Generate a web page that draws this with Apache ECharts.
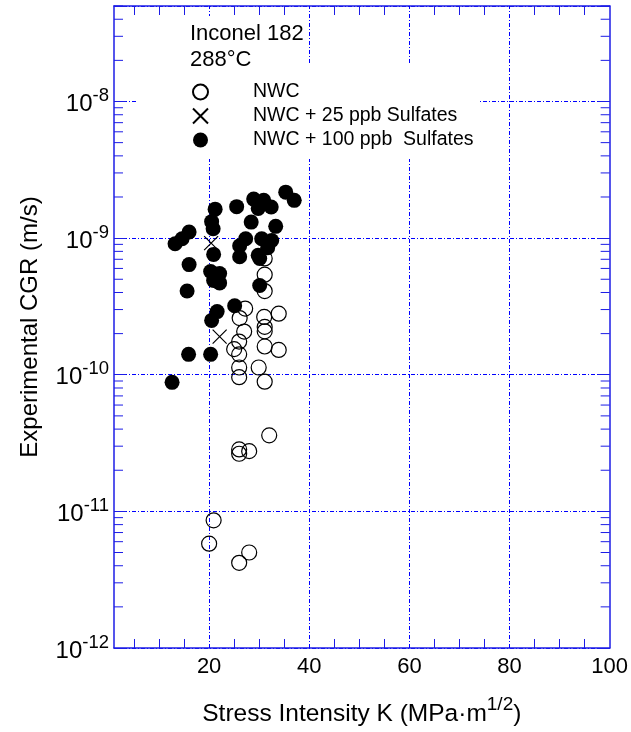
<!DOCTYPE html>
<html>
<head>
<meta charset="utf-8">
<script src="https://cdn.jsdelivr.net/npm/echarts@6/dist/echarts.min.js"></script>
<style>html,body{margin:0;padding:0;background:#fff}#c{width:631px;height:732px}</style>
</head>
<body>
<div id="c"></div>
<script>
// ---- data (K in MPa·m^1/2, CGR in m/s) ----
const nwcK   = [31.1,31.1,31.1,27.2,26.1,33.9,31.0,31.1,31.1,27.0,26.0,25.0,26.0,31.1,33.9,26.0,29.9,26.0,31.1,32.0,26.0,26.0,28.0,20.9,20.0,28.0,26.0];
const nwcCGR = [7.1e-10,5.4e-10,4.1e-10,3.05e-10,2.6e-10,2.8e-10,2.65e-10,2.24e-10,2.08e-10,2.07e-10,1.75e-10,1.54e-10,1.41e-10,1.61e-10,1.52e-10,1.13e-10,1.13e-10,9.6e-11,8.9e-11,3.6e-11,2.84e-11,2.64e-11,2.76e-11,8.6e-12,5.8e-12,5.0e-12,4.2e-12];
const s25K   = [20.4,22.1];
const s25CGR = [9.2e-10,1.9e-10];
const s100K  = [13.2,14.6,16.0,16.0,15.6,21.2,20.5,20.8,20.9,25.5,20.3,22.1,20.9,22.1,28.9,30.9,32.4,29.8,28.4,35.3,37.0,33.3,27.3,26.1,26.1,30.5,32.5,31.7,29.8,30.1,30.1,25.1,21.6,20.5,15.9,20.3,12.6];
const s100CGR= [9.1e-10,9.9e-10,1.11e-9,6.4e-10,4.1e-10,1.63e-9,1.32e-9,1.17e-9,7.6e-10,1.70e-9,5.7e-10,5.5e-10,4.9e-10,4.7e-10,1.93e-9,1.89e-9,1.69e-9,1.65e-9,1.31e-9,2.17e-9,1.89e-9,1.22e-9,9.9e-10,8.8e-10,7.3e-10,9.9e-10,9.6e-10,8.5e-10,7.5e-10,7.1e-10,4.5e-10,3.2e-10,2.9e-10,2.5e-10,1.41e-10,1.41e-10,8.8e-11];
const seriesNames = ['NWC','NWC + 25 ppb Sulfates','NWC + 100 ppb  Sulfates'];
const xLabelTicks = [20,40,60,80,100];
const xMinorTicks = [5,10,15,25,30,35,45,50,55,65,70,75,85,90,95];
const xGridValues = [20,40,60,80];
const yMinorTicks = [];
[-12,-11,-10,-9,-8].forEach(function(e){ for (let m=2;m<=9;m++){ const v=m*Math.pow(10,e); if (v<=5e-8) yMinorTicks.push(v);} });
const xMin = 1, xMax = 100, yMin = 1e-12, yMax = 5e-8;

const FONT = '"Liberation Sans", Arial, Helvetica, sans-serif';
const axisColor = '#1c1ce6';
const gridColor = '#0000ff';
const gridDash = [4,2,1,2];

function pairs(a,b){ return a.map(function(v,i){ return [v,b[i]]; }); }
function yLabel(v){
  const l = Math.log10(v), e = Math.round(l);
  if (Math.abs(l-e) > 1e-6) return '';
  return '{b|10}{s|' + e + '}';
}

const chart = echarts.init(document.getElementById('c'), null, {renderer:'canvas'});
const baseX = {
  type:'value', min:xMin, max:xMax,
  axisLine:{show:true, onZero:false, lineStyle:{color:axisColor, width:1.5}},
  axisTick:{show:true, inside:true, length:9, customValues:xMinorTicks, lineStyle:{color:axisColor, width:1}},
  splitLine:{show:false}
};
const baseY = {
  type:'log', logBase:10, min:yMin, max:yMax,
  axisLine:{show:true, onZero:false, lineStyle:{color:axisColor, width:1.5}},
  axisTick:{show:true, inside:true, length:12, lineStyle:{color:axisColor, width:1}},
  minorTick:{show:false},
  splitLine:{show:false}
};

const option = {
  animation:false,
  backgroundColor:'#fff',
  textStyle:{fontFamily:FONT},
  grid:{left:114, right:18, top:6, bottom:82, containLabel:false},
  title:{
    text:'Inconel 182\n288°C', left:190, top:21, padding:0, z:6,
    textStyle:{fontSize:22, fontWeight:'normal', lineHeight:26, color:'#000', fontFamily:FONT}
  },
  legend:{
    orient:'vertical', left:187, top:75, itemWidth:15, itemHeight:15, itemGap:0,
    selectedMode:false, data:seriesNames, z:6,
    textStyle:{fontSize:19.5, lineHeight:24, padding:[0,0,0,40], color:'#000', fontFamily:FONT}
  },
  graphic:[
    {type:'rect', z:3, silent:true, shape:{x:138, y:63, width:341, height:96}, style:{fill:'#fff'}},
    {type:'rect', z:3, silent:true, shape:{x:138, y:16, width:165, height:50}, style:{fill:'#fff'}}
  ],
  xAxis:[
    Object.assign({}, baseX, {
      position:'bottom',
      name:'{a|Stress Intensity K (MPa·m}{s|1/2}{a|)}',
      nameLocation:'middle', nameGap:47,
      nameTextStyle:{rich:{
        a:{fontSize:24.5, color:'#000', fontFamily:FONT, lineHeight:32, verticalAlign:'bottom'},
        s:{fontSize:19, color:'#000', fontFamily:FONT, lineHeight:18, verticalAlign:'top'}
      }},
      axisLabel:{show:true, customValues:xLabelTicks, margin:8, fontSize:22, color:'#000', fontFamily:FONT}
    }),
    Object.assign({}, baseX, {position:'top', axisLabel:{show:false}})
  ],
  yAxis:[
    Object.assign({}, baseY, {
      position:'left',
      name:'Experimental CGR (m/s)', nameLocation:'middle', nameGap:72, nameRotate:90,
      nameTextStyle:{fontSize:24, color:'#000', fontFamily:FONT},
      splitLine:{show:true, lineStyle:{color:gridColor, width:1, type:gridDash}},
      axisLabel:{show:true, margin:5, formatter:yLabel, rich:{
        b:{fontSize:24, color:'#000', fontFamily:FONT, lineHeight:30, verticalAlign:'bottom'},
        s:{fontSize:18.5, color:'#000', fontFamily:FONT, lineHeight:18, verticalAlign:'top'}
      }}
    }),
    Object.assign({}, baseY, {position:'right', axisLabel:{show:false}})
  ],
  series:[
    {
      type:'custom', name:'minorTicks', z:1, silent:true, xAxisIndex:0, yAxisIndex:0,
      data: yMinorTicks.map(function(v){ return [xMin, v]; }),
      renderItem:function(params, api){
        const cs = params.coordSys;
        const p = api.coord([api.value(0), api.value(1)]);
        const st = {stroke:axisColor, lineWidth:1};
        return {type:'group', children:[
          {type:'line', shape:{x1:cs.x, y1:p[1], x2:cs.x+9, y2:p[1]}, style:st},
          {type:'line', shape:{x1:cs.x+cs.width, y1:p[1], x2:cs.x+cs.width-9, y2:p[1]}, style:st}
        ]};
      },
      markLine:{
        silent:true, symbol:['none','none'], label:{show:false}, z:1,
        lineStyle:{color:gridColor, width:1, type:gridDash, opacity:1},
        emphasis:{disabled:true},
        data: xGridValues.map(function(v){ return {xAxis:v, lineStyle:{color:gridColor}}; })
      }
    },
    {
      type:'scatter', name:seriesNames[0], z:8, data:pairs(nwcK,nwcCGR),
      symbol:'circle', symbolSize:15,
      itemStyle:{color:'rgba(0,0,0,0)', borderColor:'#000', borderWidth:1.2, opacity:1}
    },
    {
      type:'scatter', name:seriesNames[1], z:9, data:pairs(s25K,s25CGR),
      symbol:'path://M0,0L10,10M10,0L0,10', symbolSize:14,
      itemStyle:{color:'rgba(0,0,0,0)', borderColor:'#000', borderWidth:1.2, opacity:1}
    },
    {
      type:'scatter', name:seriesNames[2], z:10, data:pairs(s100K,s100CGR),
      symbol:'circle', symbolSize:15,
      itemStyle:{color:'#000', borderColor:'#000', borderWidth:0, opacity:1}
    }
  ]
};
chart.setOption(option);
</script>
</body>
</html>
